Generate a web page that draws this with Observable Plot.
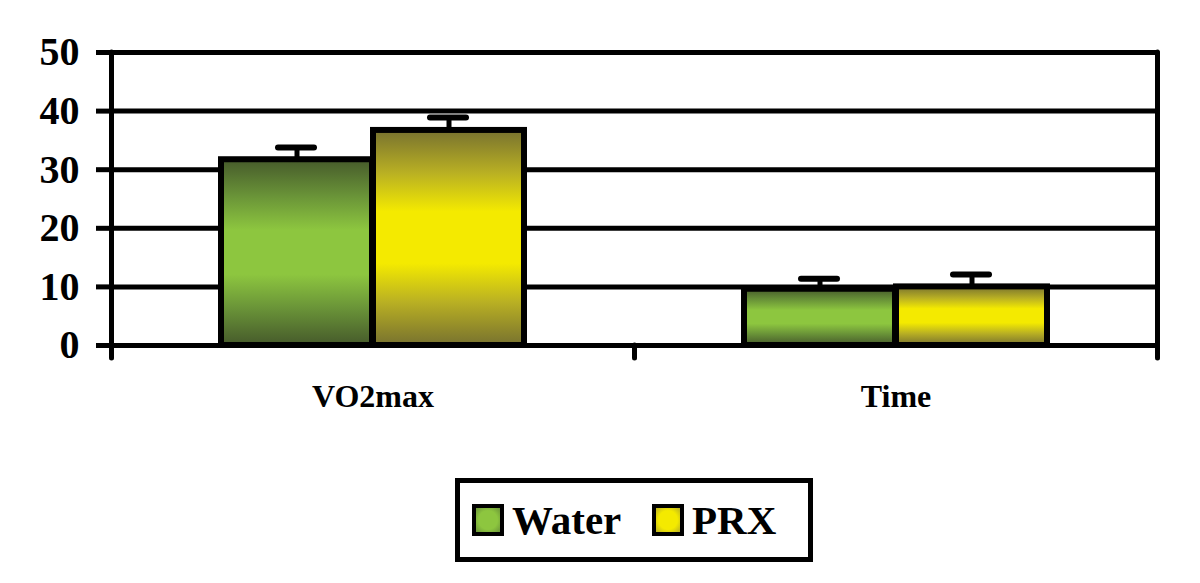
<!DOCTYPE html>
<html>
<head>
<meta charset="utf-8">
<script src="https://cdn.jsdelivr.net/npm/d3@7"></script>
<script src="https://cdn.jsdelivr.net/npm/@observablehq/plot@0.6"></script>
<style>
  html, body { margin: 0; padding: 0; background: #fff; }
  #wrap { position: relative; width: 1200px; height: 583px; }
  #legend {
    position: absolute; left: 455px; top: 478px; width: 358px; height: 84px;
    box-sizing: border-box; border: 5px solid #000;
    font-family: "Liberation Serif", "Times New Roman", serif; font-weight: bold; font-size: 41px;
  }
  .item { position: absolute; top: 13px; display: flex; align-items: center; }
  .sw { width: 24px; height: 24px; border: 4px solid #000; margin-right: 8px; }
</style>
</head>
<body>
<div id="wrap"></div>
<script>
const categories = ["VO2max", "Time"];
const series = ["Water", "PRX"];
const waterValues = [31.7, 9.6];
const waterErrors = [2.1, 1.8];
const prxValues = [36.7, 10.0];
const prxErrors = [2.2, 2.1];
const yTicks = [0, 10, 20, 30, 40, 50];

const water = categories.map((c, i) => ({cat: c, v: waterValues[i], e: waterValues[i] + waterErrors[i]}));
const prx = categories.map((c, i) => ({cat: c, v: prxValues[i], e: prxValues[i] + prxErrors[i]}));

const W = 1200, H = 440, ML = 111, MR = 43, MT = 52, MB = 95;
const bw = (W - ML - MR) / categories.length;
const serif = "Liberation Serif, Times New Roman, serif";
const first = categories[0], last = categories[categories.length - 1];

const chart = Plot.plot({
  width: W, height: H,
  marginLeft: ML, marginRight: MR, marginTop: MT, marginBottom: MB,
  x: {type: "band", domain: categories, padding: 0},
  y: {domain: [0, 50], ticks: yTicks},
  style: {background: "#fff", overflow: "visible"},
  marks: [
    Plot.ruleY(yTicks, {stroke: "#000", strokeWidth: 5}),
    Plot.barY(water, {x: "cat", y: "v", fill: "url(#gWater)", stroke: "#000", strokeWidth: 6, insetLeft: 110, insetRight: 262}),
    Plot.barY(prx, {x: "cat", y: "v", fill: "url(#gPrx)", stroke: "#000", strokeWidth: 6, insetLeft: 262, insetRight: 110}),
    Plot.ruleX(water, {x: "cat", y1: "v", y2: "e", dx: -76, stroke: "#000", strokeWidth: 5}),
    Plot.ruleX(prx, {x: "cat", y1: "v", y2: "e", dx: 76, stroke: "#000", strokeWidth: 5}),
    Plot.tickY(water, {x: "cat", y: "e", insetLeft: 167, insetRight: 320, stroke: "#000", strokeWidth: 6, strokeLinecap: "round"}),
    Plot.tickY(prx, {x: "cat", y: "e", insetLeft: 319, insetRight: 168, stroke: "#000", strokeWidth: 6, strokeLinecap: "round"}),
    Plot.ruleX([first], {x: d => d, dx: -bw / 2, y1: 50, y2: -2.2, stroke: "#000", strokeWidth: 5, strokeLinecap: "round"}),
    Plot.ruleX(categories.slice(1), {x: d => d, dx: -bw / 2, y1: 0, y2: -2.2, stroke: "#000", strokeWidth: 5, strokeLinecap: "round"}),
    Plot.ruleX([last], {x: d => d, dx: bw / 2, y1: 50, y2: -2.2, stroke: "#000", strokeWidth: 5, strokeLinecap: "round"}),
    Plot.axisY({ticks: yTicks, tickSize: 15, tickPadding: 17, strokeWidth: 5, fontSize: 40, fontWeight: "bold", fontFamily: serif, fill: "#000", label: null}),
    Plot.axisX({tickSize: 0, tickPadding: 39, fontSize: 32, fontWeight: "bold", fontFamily: serif, fill: "#000", label: null})
  ]
});

const defs = d3.create("svg:defs");
function grad(id, dark, mid, bright) {
  const g = defs.append("linearGradient").attr("id", id).attr("x1", 0).attr("y1", 0).attr("x2", 0).attr("y2", 1);
  [[0, dark], [0.2, mid], [0.38, bright], [0.62, bright], [0.8, mid], [1, dark]].forEach(([o, c]) =>
    g.append("stop").attr("offset", o).attr("stop-color", c));
}
grad("gWater", "#465a2b", "#6a9438", "#8dc63f");
grad("gPrx", "#78722f", "#b9b023", "#f4ea00");
chart.insertBefore(defs.node(), chart.firstChild);

const wrap = document.getElementById("wrap");
wrap.appendChild(chart);

const legend = document.createElement("div");
legend.id = "legend";
const fills = ["#8dc63f", "#f4ea00"];
const lefts = [12, 192];
series.forEach((s, i) => {
  const it = document.createElement("div");
  it.className = "item";
  it.style.left = lefts[i] + "px";
  const sw = document.createElement("div");
  sw.className = "sw";
  sw.style.background = `radial-gradient(circle, ${fills[i]} 55%, ${i ? "#b9b023" : "#6a9438"} 100%)`;
  const t = document.createElement("span");
  t.textContent = s;
  it.appendChild(sw); it.appendChild(t);
  legend.appendChild(it);
});
wrap.appendChild(legend);
</script>
</body>
</html>
